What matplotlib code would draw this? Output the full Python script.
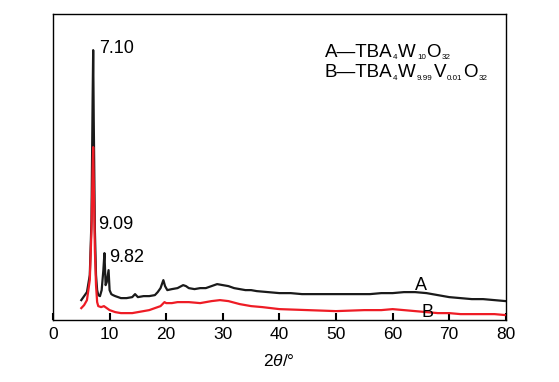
import matplotlib
matplotlib.use("Agg")
import matplotlib.pyplot as plt
from matplotlib.transforms import offset_copy

plt.rcParams['font.family'] = ['Liberation Sans', 'DejaVu Sans']
plt.rcParams['mathtext.fontset'] = 'custom'
plt.rcParams['mathtext.rm'] = 'Liberation Sans'
plt.rcParams['mathtext.it'] = 'Liberation Sans:italic'

# curve A (TBA4W10O32)
xA = [5.0, 5.5, 6.0, 6.5, 6.8, 7.0, 7.1, 7.2, 7.4, 7.6, 7.8, 8.0, 8.3, 8.6, 8.9, 9.09, 9.3, 9.5,
      9.82, 10.0, 10.3, 10.6, 11, 11.5, 12, 13, 14, 14.5, 15, 16, 17, 18, 18.5, 19.0, 19.5, 19.8,
      20.2, 21, 22, 23, 23.5, 24, 25, 26, 27, 28, 29, 30, 31, 32, 33, 34, 35, 36, 38, 40, 42, 44,
      46, 48, 50, 52, 54, 56, 58, 60, 62, 64, 66, 68, 70, 72, 74, 76, 78, 80]
yA = [20, 24, 28, 45, 100, 220, 270, 200, 90, 45, 30, 25, 24, 30, 50, 67, 35, 38,
      50, 30, 26, 25, 24, 23, 22, 22, 23, 26, 23, 24, 24, 25, 28, 32, 40, 34,
      30, 31, 32, 35, 34, 32, 31, 32, 32, 34, 36, 35, 34, 32, 31, 30, 30, 29, 28, 27, 27, 26,
      26, 26, 26, 26, 26, 26, 27, 27, 28, 28, 27, 25, 23, 22, 21, 21, 20, 19]

# curve B (TBA4W9.99V0.01O32)
xB = [5.0, 5.5, 6.0, 6.5, 6.8, 7.0, 7.1, 7.2, 7.4, 7.6, 7.8, 8.0, 8.5, 9.0, 9.5, 10, 11, 12,
      13, 14, 15, 16, 17, 18, 19, 19.7, 20, 21, 22, 24, 26, 28, 29.5, 31, 33, 35, 37, 40, 45,
      50, 55, 58, 60, 62, 64, 66, 68, 70, 72, 75, 78, 80]
yB = [12, 15, 20, 40, 90, 150, 173, 140, 70, 35, 18, 14, 13, 14, 12, 10, 8, 7,
      7, 7, 8, 9, 10, 12, 14, 18, 17, 17, 18, 18, 17, 19, 20, 19, 16, 14, 13, 11, 10,
      9, 10, 10, 11, 10, 9, 8, 7, 7, 6, 6, 6, 5]

peaks = [("7.10", 8.1, 272), ("9.09", 7.9, 96), ("9.82", 9.9, 63)]

# legend formulas as (text, is_subscript) pieces
formulaA = [("A—TBA", 0), ("4", 1), ("W", 0), ("10", 1), ("O", 0), ("32", 1)]
formulaB = [("B—TBA", 0), ("4", 1), ("W", 0), ("9.99", 1), ("V", 0), ("0.01", 1), ("O", 0), ("32", 1)]

fig = plt.figure(figsize=(5.59, 3.82), dpi=100)
ax = fig.add_axes([0.0948, 0.162, 0.810, 0.801])

ax.plot(xA, yA, color='#1a1a1a', lw=1.6)
ax.plot(xB, yB, color='#ee1c25', lw=1.6)

for lab, px, py in peaks:
    ax.text(px, py, lab, fontsize=13, va='center', ha='left')
ax.text(65.0, 35, 'A', fontsize=13, ha='center', va='center')
ax.text(66.2, 8, 'B', fontsize=13, ha='center', va='center')


def formula(pieces, x, y):
    r = fig.canvas.get_renderer()
    dx = 0
    for s, sub in pieces:
        tr = offset_copy(ax.transAxes, fig=fig, x=dx, y=-2.5 if sub else 0, units='dots')
        t = ax.text(x, y, s, transform=tr, fontsize=5.8 if sub else 13.5, va='baseline')
        dx += t.get_window_extent(r).width + 0.8


formula(formulaA, 0.600, (320 - 56.5) / 306)
formula(formulaB, 0.600, (320 - 77) / 306)

ax.set_xlim(0, 80)
ax.set_ylim(0, 306)
ax.set_xticks(range(0, 81, 10))
ax.set_yticks([])
ax.tick_params(axis='x', direction='in', length=5, width=1.5, labelsize=12.5, pad=5)
ax.set_xlabel(r'$2\theta$/°', fontsize=12.5, labelpad=8)
for s in ax.spines.values():
    s.set_linewidth(1)

plt.savefig('out.png', dpi=100)
